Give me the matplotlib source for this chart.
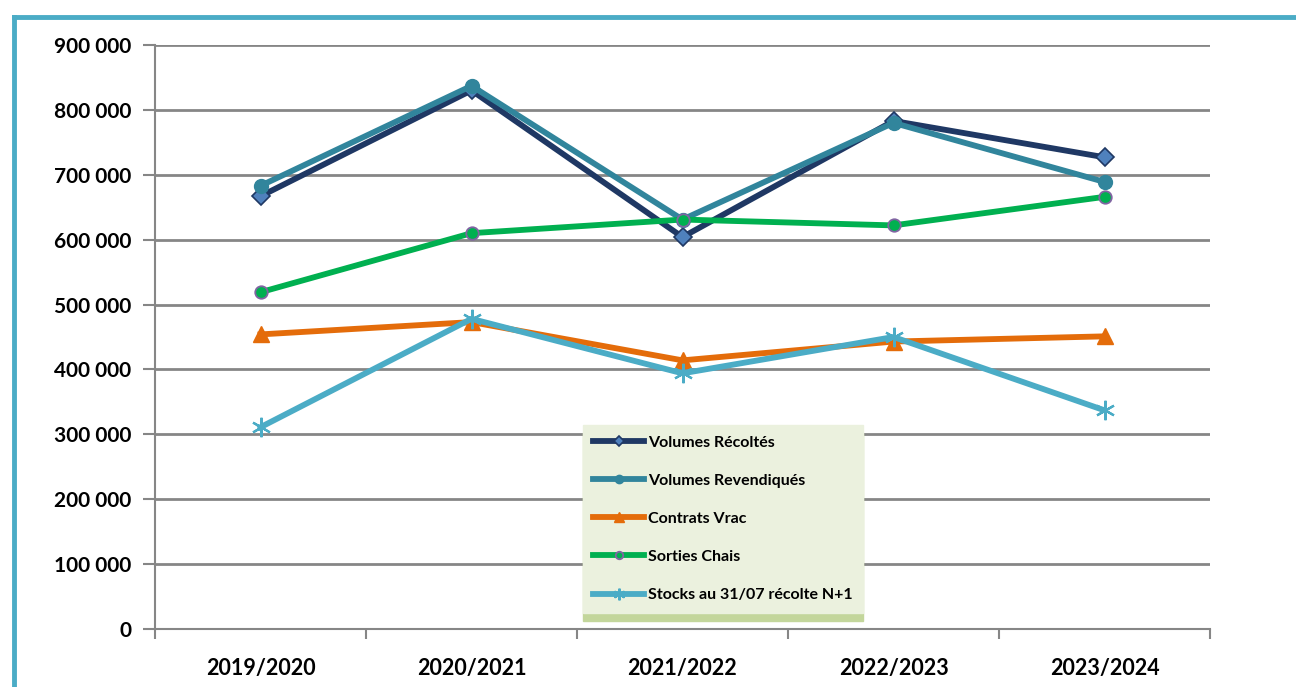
"""Volumes, contrats et stocks par campagne."""

import matplotlib.pyplot as plt
from matplotlib.lines import Line2D
from matplotlib.ticker import FuncFormatter

campagnes = ["2019/2020", "2020/2021", "2021/2022", "2022/2023", "2023/2024"]
volumes_recoltes = [667000, 830000, 604000, 783000, 727000]
volumes_revendiques = [683000, 837000, 631000, 780000, 689000]
contrats_vrac = [454000, 473000, 414000, 443000, 451000]
sorties_chais = [519000, 610000, 631000, 622000, 666000]
stocks = [311000, 478000, 394000, 450000, 337000]

plt.rcParams["font.family"] = ["Lato", "DejaVu Sans"]

fig = plt.figure(figsize=(12.96, 6.87), dpi=100)
ax = fig.add_axes([155 / 1296, 58 / 687, 1055 / 1296, 584 / 687])

# cadre bleu autour du graphique
frame_color = "#4BACC6"
fig.add_artist(Line2D([14 / 1296, 14 / 1296], [0, 1 - 17 / 687], color=frame_color, lw=3.5,
                      transform=fig.transFigure, solid_capstyle="projecting"))
fig.add_artist(Line2D([14 / 1296, 1], [1 - 17 / 687, 1 - 17 / 687], color=frame_color, lw=3.5,
                      transform=fig.transFigure, solid_capstyle="projecting"))

x = range(len(campagnes))
series = [
    ("Volumes Récoltés", volumes_recoltes, dict(color="#1F3864", marker="D", ms=9, mfc="#4F81BD", mec="#1F3864", mew=1.2)),
    ("Volumes Revendiqués", volumes_revendiques, dict(color="#31859C", marker="o", ms=10, mfc="#31859C", mec="#31859C")),
    ("Contrats Vrac", contrats_vrac, dict(color="#E46C0A", marker="^", ms=12, mfc="#E46C0A", mec="#E46C0A")),
    ("Sorties Chais", sorties_chais, dict(color="#00B050", marker="o", ms=9, mfc="#00B050", mec="#8064A2", mew=1.3)),
    ("Stocks au 31/07 récolte N+1", stocks, dict(color="#4BACC6", marker=(6, 2, 0), ms=14, mfc="#4BACC6", mec="#4BACC6", mew=1.6)),
]
for label, values, style in series:
    ax.plot(x, values, lw=4.2, label=label, zorder=3, **style)

ax.set_xlim(-0.5, 4.5)
ax.set_ylim(0, 900000)
ax.set_yticks(range(0, 900001, 100000))
ax.yaxis.set_major_formatter(FuncFormatter(lambda v, _: f"{int(v):,}".replace(",", " ")))
ax.set_xticks(list(x))
ax.set_xticklabels(campagnes, fontsize=15.5, fontweight="bold")
ax.set_xticks([i - 0.5 for i in range(len(campagnes) + 1)], minor=True)
ax.tick_params(axis="x", which="major", length=0, pad=21)
ax.tick_params(axis="x", which="minor", length=7, width=1.5, color="#868686", direction="out")
ax.tick_params(axis="y", length=9, width=1.5, color="#868686", labelsize=15, pad=8)
for lab in ax.get_yticklabels():
    lab.set_fontweight("bold")

ax.grid(axis="y", color="#868686", lw=2)
ax.set_axisbelow(True)
for side in ("top", "right"):
    ax.spines[side].set_visible(False)
for side in ("left", "bottom"):
    ax.spines[side].set_color("#868686")
    ax.spines[side].set_linewidth(1.5)

leg = ax.legend(loc="upper left", bbox_to_anchor=(583 / 1296, 1 - 425 / 687), bbox_transform=fig.transFigure,
                borderaxespad=0, handlelength=3.2, labelspacing=1.5, borderpad=0.65,
                handletextpad=0.2, fancybox=False, framealpha=1,
                shadow={"color": "#C3D69B", "alpha": 1, "ox": 0, "oy": -6},
                prop={"size": 11.5, "weight": "bold"})
leg.get_frame().set_facecolor("#EBF1DE")
leg.get_frame().set_edgecolor("#EBF1DE")
for h in leg.legend_handles:
    h.set_markersize(h.get_markersize() * 0.6)

fig.savefig("out.png", dpi=100)
